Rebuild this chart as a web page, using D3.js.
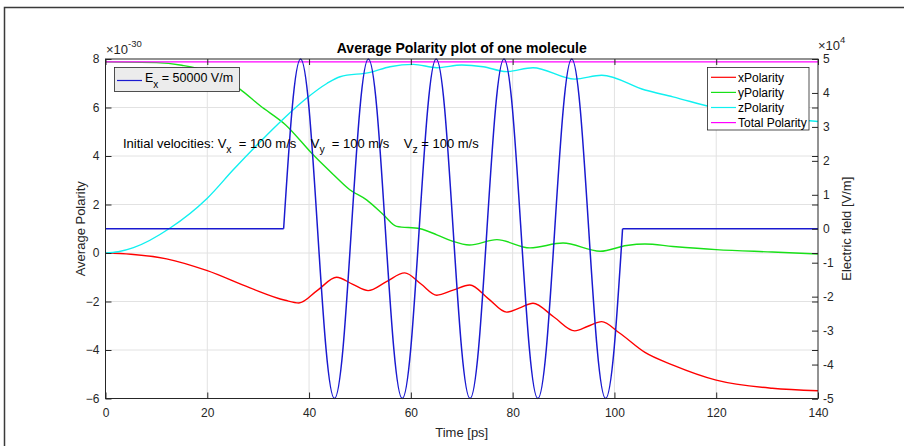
<!DOCTYPE html>
<html>
<head>
<meta charset="utf-8">
<script src="https://cdn.jsdelivr.net/npm/d3@7"></script>
<style>
  body { margin: 0; background: #fff; }
  text { font-family: "Liberation Sans", Arial, sans-serif; white-space: pre; }
</style>
</head>
<body>
<div id="container"></div>
<script>
// x axis ticks (time in ps) and the two y axes
const timeTicks = [0, 20, 40, 60, 80, 100, 120, 140];
const polarityTicks = [-6, -4, -2, 0, 2, 4, 6, 8];
const fieldTicks = [-5, -4, -3, -2, -1, 0, 1, 2, 3, 4, 5]; // x 10^4 V/m

// polarity curves, values in units of 1e-30
const xTime = [0, 5, 12, 20, 28.4, 35.3, 38, 41.7, 45.4, 48.5, 51.6, 55.2, 58.8, 62, 65.1, 68.3, 71.6, 75.2, 78.8, 81.4, 84, 88.1, 92.2, 94.8, 97.5, 101, 106, 111.5, 120, 131, 140];
const xPolarity = [0, -0.05, -0.24, -0.73, -1.44, -1.95, -2.06, -1.53, -1.0, -1.28, -1.55, -1.18, -0.82, -1.28, -1.74, -1.53, -1.32, -1.88, -2.44, -2.26, -2.07, -2.64, -3.21, -3.02, -2.83, -3.3, -4.1, -4.62, -5.24, -5.58, -5.68];

const yTime = [0, 10, 15, 20, 26.4, 30.4, 35.3, 40.8, 44.8, 48, 51.3, 54.6, 57.2, 61.8, 65.1, 68, 71.5, 76.9, 83.4, 89.9, 97.2, 102.4, 106, 111.5, 120, 131, 140];
const yPolarity = [7.88, 7.85, 7.74, 7.5, 6.76, 6.07, 5.3, 4.05, 3.23, 2.61, 2.19, 1.58, 1.1, 1.0, 0.75, 0.5, 0.33, 0.55, 0.21, 0.41, 0.07, 0.31, 0.37, 0.27, 0.14, 0.04, -0.04];

const zTime = [0, 2.5, 5.5, 12.7, 20, 25.1, 30.4, 35.3, 39.5, 43.5, 46.1, 52, 55.9, 60.5, 65.1, 70, 74.2, 78.8, 84, 92.2, 97.5, 106, 111.5, 120, 130, 140];
const zPolarity = [0, 0.05, 0.22, 1.03, 2.26, 3.43, 4.59, 5.6, 6.38, 6.99, 7.27, 7.45, 7.68, 7.78, 7.64, 7.75, 7.68, 7.48, 7.64, 7.17, 7.33, 6.72, 6.44, 5.97, 5.65, 5.42];

const totalTime = [0, 140];
const totalPolarity = [7.88, 7.88];

// electric field in V/m (pulse between 35 and 101.6 ps)
const eTime = [0, 35.00, 36.67, 38.33, 40.00, 41.66, 43.33, 44.99, 46.66, 48.32, 49.99, 51.65, 53.32, 54.98, 56.65, 58.31, 59.98, 61.64, 63.31, 64.97, 66.64, 68.30, 69.97, 71.63, 73.30, 74.96, 76.63, 78.29, 79.96, 81.62, 83.29, 84.95, 86.62, 88.28, 89.95, 91.61, 93.28, 94.94, 96.61, 98.27, 99.94, 101.60, 140];
const eField = [0,
  0, 35355, 50000, 35355, 0, -35355, -50000, -35355,
  0, 35355, 50000, 35355, 0, -35355, -50000, -35355,
  0, 35355, 50000, 35355, 0, -35355, -50000, -35355,
  0, 35355, 50000, 35355, 0, -35355, -50000, -35355,
  0, 35355, 50000, 35355, 0, -35355, -50000, -35355,
  0, 0];

const seriesNames = ["xPolarity", "yPolarity", "zPolarity", "Total Polarity"];
const seriesColors = ["#ff0000", "#18e018", "#10f0f0", "#ff00ff"];

function chart(){
    const width = 904;
    const height = 446;
    const left = 105.5, right = 818, top = 59, bottom = 398.5;
    const axisColor = "#262626";
    const nb = "\u00a0";

    const xScale = d3.scaleLinear().domain([0, 140]).range([left, right]);
    const yLeft = d3.scaleLinear().domain([-6, 8]).range([bottom, top]);
    const yRight = d3.scaleLinear().domain([-5e4, 5e4]).range([bottom, top]);

    const svg = d3.select("#container")
        .append("svg")
        .attr("width", width)
        .attr("height", height);

    svg.append("rect").attr("width", width).attr("height", height).attr("fill", "#fff");

    // figure frame
    svg.append("rect")
        .attr("x", 4.5).attr("y", 7.5)
        .attr("width", 920).attr("height", 460)
        .attr("fill", "none")
        .attr("stroke", "#3a3a3a")
        .attr("stroke-width", 1.5);

    // grid
    svg.append("g").selectAll("line")
        .data(timeTicks.slice(1, -1))
        .join("line")
        .attr("x1", d => xScale(d)).attr("x2", d => xScale(d))
        .attr("y1", top).attr("y2", bottom)
        .attr("stroke", "#e2e2e2");
    svg.append("g").selectAll("line")
        .data(polarityTicks.slice(1, -1))
        .join("line")
        .attr("x1", left).attr("x2", right)
        .attr("y1", d => yLeft(d)).attr("y2", d => yLeft(d))
        .attr("stroke", "#e2e2e2");

    // clip for the curves
    svg.append("defs").append("clipPath").attr("id", "plotclip")
        .append("rect")
        .attr("x", left).attr("y", top - 2)
        .attr("width", right - left).attr("height", bottom - top + 4);

    const plot = svg.append("g").attr("clip-path", "url(#plotclip)");

    const polLine = d3.line()
        .x(d => xScale(d[0]))
        .y(d => yLeft(d[1]))
        .curve(d3.curveMonotoneX);

    const series = [
        [xTime, xPolarity],
        [yTime, yPolarity],
        [zTime, zPolarity],
        [totalTime, totalPolarity]
    ];
    series.forEach(([ts, vs], i) => {
        plot.append("path")
            .datum(ts.map((t, j) => [t, vs[j]]))
            .attr("d", polLine)
            .attr("fill", "none")
            .attr("stroke", seriesColors[i])
            .attr("stroke-width", 1.4);
    });

    // electric field: flat parts straight, pulse as a smooth curve
    const ePoints = eTime.map((t, i) => [t, eField[i]]);
    const pulse = ePoints.filter(d => d[0] >= 35 && d[0] <= 101.6);
    const eLine = d3.line().x(d => xScale(d[0])).y(d => yRight(d[1]));
    [ePoints.slice(0, 2), ePoints.slice(-2)].forEach(seg => {
        plot.append("path")
            .attr("d", eLine(seg))
            .attr("fill", "none")
            .attr("stroke", "#1a1ad0")
            .attr("stroke-width", 1.5);
    });
    plot.append("path")
        .attr("d", eLine.curve(d3.curveNatural)(pulse))
        .attr("fill", "none")
        .attr("stroke", "#1a1ad0")
        .attr("stroke-width", 1.5);

    // axes box
    svg.append("rect")
        .attr("x", left).attr("y", top)
        .attr("width", right - left).attr("height", bottom - top)
        .attr("fill", "none")
        .attr("stroke", axisColor)
        .attr("stroke-width", 1);

    const styleAxis = g => {
        g.select(".domain").remove();
        g.selectAll(".tick line").attr("stroke", axisColor);
        g.selectAll("text").attr("fill", axisColor);
        g.attr("font-size", 12).attr("font-family", "Liberation Sans, Arial, sans-serif");
    };

    svg.append("g")
        .attr("transform", `translate(0,${bottom})`)
        .call(d3.axisBottom(xScale).tickValues(timeTicks).tickSize(-6).tickPadding(10))
        .call(styleAxis);
    svg.append("g")
        .attr("transform", `translate(0,${top})`)
        .call(d3.axisTop(xScale).tickValues(timeTicks).tickSize(-6).tickFormat(""))
        .call(styleAxis);
    svg.append("g")
        .attr("transform", `translate(${left},0)`)
        .call(d3.axisLeft(yLeft).tickValues(polarityTicks).tickSize(-6).tickPadding(6))
        .call(styleAxis);
    // left axis ticks repeated on the right side
    svg.append("g")
        .attr("transform", `translate(${right},0)`)
        .call(d3.axisRight(yLeft).tickValues(polarityTicks).tickSize(-6).tickFormat(""))
        .call(styleAxis);
    svg.append("g")
        .attr("transform", `translate(${right},0)`)
        .call(d3.axisRight(yRight).tickValues(fieldTicks.map(v => v * 1e4))
            .tickFormat(v => v / 1e4).tickSize(-6).tickPadding(5))
        .call(styleAxis);

    // exponent labels
    const expLeft = svg.append("text").attr("x", 106).attr("y", 54)
        .attr("font-size", 13).attr("fill", axisColor);
    expLeft.append("tspan").text("\u00d710");
    expLeft.append("tspan").attr("font-size", 9.5).attr("dy", -7).text("-30");

    const expRight = svg.append("text").attr("x", 818).attr("y", 50)
        .attr("font-size", 13).attr("fill", axisColor);
    expRight.append("tspan").text("\u00d710");
    expRight.append("tspan").attr("font-size", 9.5).attr("dy", -7).text("4");

    // title and axis labels
    svg.append("text")
        .attr("x", (left + right) / 2).attr("y", 52.5)
        .attr("text-anchor", "middle")
        .attr("font-size", 14).attr("font-weight", "bold")
        .attr("fill", "#000")
        .text("Average Polarity plot of one molecule");

    svg.append("text")
        .attr("x", (left + right) / 2).attr("y", 437)
        .attr("text-anchor", "middle")
        .attr("font-size", 13).attr("fill", axisColor)
        .text("Time [ps]");

    svg.append("text")
        .attr("transform", `translate(84.5,${(top + bottom) / 2}) rotate(-90)`)
        .attr("text-anchor", "middle")
        .attr("font-size", 13).attr("fill", axisColor)
        .text("Average Polarity");

    svg.append("text")
        .attr("transform", `translate(851,${(top + bottom) / 2}) rotate(-90)`)
        .attr("text-anchor", "middle")
        .attr("font-size", 13).attr("fill", axisColor)
        .text("Electric field [V/m]");

    // annotation with subscripts
    const note = svg.append("text").attr("x", 123).attr("y", 148)
        .attr("font-size", 13).attr("fill", "#000");
    const gap = `${nb}${nb}=${nb}100${nb}m/s${nb}${nb}${nb}${nb}V`;
    [["x", `Initial${nb}velocities:${nb}V`], ["y", gap], ["z", gap]].forEach(([sub, txt], i) => {
        note.append("tspan").attr("dy", i === 0 ? 0 : -5).text(txt);
        note.append("tspan").attr("font-size", 10.5).attr("dy", 5).text(sub);
    });
    note.append("tspan").attr("dy", -5).text(`${nb}=${nb}100${nb}m/s`);

    // field legend (grey box, top left)
    svg.append("rect")
        .attr("x", 114.5).attr("y", 67.5)
        .attr("width", 125).attr("height", 24)
        .attr("fill", "#ececec")
        .attr("stroke", axisColor).attr("stroke-width", 0.8);
    svg.append("line")
        .attr("x1", 117).attr("x2", 142)
        .attr("y1", 80.5).attr("y2", 80.5)
        .attr("stroke", "#1a1ad0").attr("stroke-width", 1.2);
    const eLabel = svg.append("text").attr("x", 145).attr("y", 82)
        .attr("font-size", 12.5).attr("fill", "#000");
    eLabel.append("tspan").text("E");
    eLabel.append("tspan").attr("font-size", 10).attr("dy", 5.5).text("x");
    eLabel.append("tspan").attr("dy", -5.5).text(`${nb}=${nb}50000${nb}V/m`);

    // polarity legend (top right)
    const legend = svg.append("g");
    legend.append("rect")
        .attr("x", 707.5).attr("y", 67.5)
        .attr("width", 101.5).attr("height", 62.5)
        .attr("fill", "#fff")
        .attr("stroke", axisColor).attr("stroke-width", 0.8);
    seriesNames.forEach((name, i) => {
        const y = 77.3 + i * 15.1;
        legend.append("line")
            .attr("x1", 711).attr("x2", 736)
            .attr("y1", y).attr("y2", y)
            .attr("stroke", seriesColors[i]).attr("stroke-width", 1.2);
        legend.append("text")
            .attr("x", 738).attr("y", y + 4.3)
            .attr("font-size", 12).attr("fill", "#000")
            .text(name);
    });
}

chart();
</script>
</body>
</html>
